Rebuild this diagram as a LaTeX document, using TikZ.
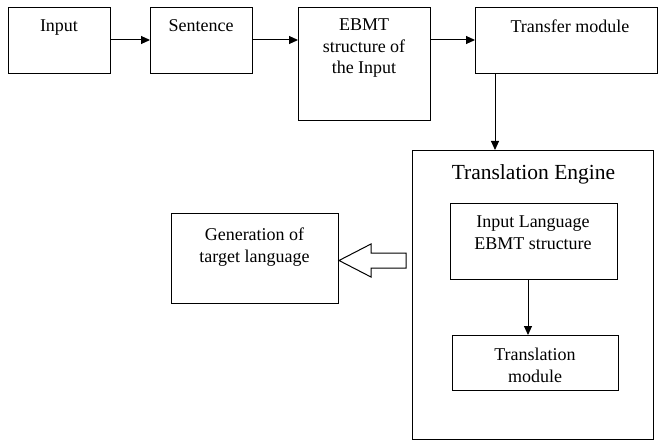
\documentclass[tikz,border=0pt]{standalone}
\usepackage{fontspec}
\setmainfont{Liberation Serif}
\usetikzlibrary{arrows.meta}
\begin{document}
\begin{tikzpicture}[x=1pt,y=-1pt,
  box/.style={draw=black,line width=1pt,inner sep=0pt,anchor=north west},
  txt/.style={inner sep=0pt,align=center,anchor=base,font=\fontsize{18}{21.5}\selectfont},
  ttl/.style={inner sep=0pt,align=center,anchor=base,font=\fontsize{21.5}{25}\selectfont},
  arr/.style={draw=black,line width=1pt,-{Triangle[length=9pt,width=8pt]}}]
\useasboundingbox (0,0) rectangle (659,441);
\node[box,minimum width=102,minimum height=66] (input) at (8,7) {};
\node[box,minimum width=102,minimum height=66] (sent) at (150,7) {};
\node[box,minimum width=132,minimum height=113] (ebmt) at (298,7) {};
\node[box,minimum width=182,minimum height=66] (trans) at (475,7) {};
\node[box,minimum width=241,minimum height=289] (engine) at (412,150) {};
\node[box,minimum width=167,minimum height=76] (ilang) at (450,203) {};
\node[box,minimum width=166,minimum height=55] (tmod) at (452,335) {};
\node[box,minimum width=167,minimum height=90] (gen) at (171,213) {};
\node[txt] (tinput) at (59,32) {Input};
\node[txt] (tsent) at (201,32) {Sentence};
\node[txt] (tebmt) at (364,74) {EBMT\\structure of\\the Input};
\node[txt] (ttrans) at (570,33) {Transfer module};
\node[ttl] (tengine) at (533.5,179) {Translation Engine};
\node[txt] (tilang) at (533,249) {Input Language\\EBMT structure};
\node[txt] (ttmod) at (535,382) {Translation\\module};
\node[txt] (tgen) at (254.5,262) {Generation of\\target language};
\draw[arr] (input.east |- 0,40) -- (sent.west |- 0,40);
\draw[arr] (sent.east |- 0,40) -- (ebmt.west |- 0,40);
\draw[arr] (ebmt.east |- 0,40) -- (trans.west |- 0,40);
\draw[arr] (trans.south -| 495,0) -- (engine.north -| 495,0);
\draw[arr] (ilang.south -| 528,0) -- (tmod.north -| 528,0);
\draw[line width=1pt,line join=miter] (406,253) -- (371,253) -- (371,244) -- (339,260.5) -- (371,277) -- (371,268) -- (406,268) -- cycle;
\end{tikzpicture}
\end{document}
